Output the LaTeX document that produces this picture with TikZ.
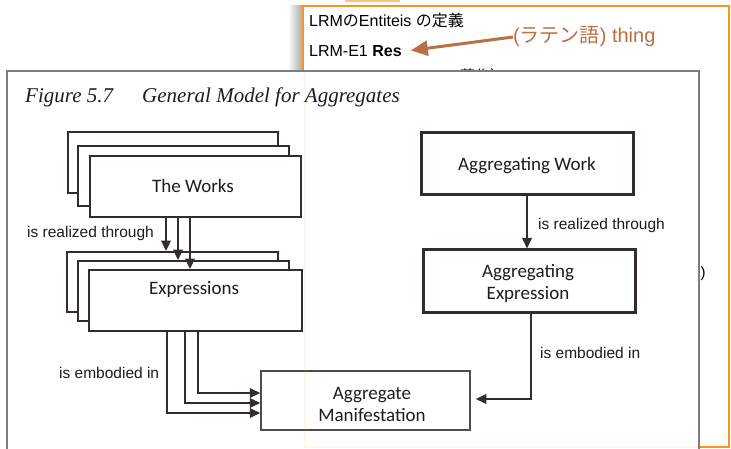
\documentclass[tikz,border=0pt]{standalone}
\usepackage{fontspec}
\setmainfont{Liberation Sans}
\newfontfamily\cjk{Noto Sans CJK JP}
\newfontfamily\calib{Carlito}
\newfontfamily\titlefont{Liberation Serif}
\usetikzlibrary{arrows.meta,calc}
\definecolor{orng}{RGB}{250,150,30}
\definecolor{brwn}{RGB}{184,112,68}
\definecolor{dk}{RGB}{50,44,42}
\definecolor{txt}{RGB}{30,28,28}
\definecolor{frm}{RGB}{125,125,125}
\begin{document}
\begin{tikzpicture}[x=1pt,y=-1pt,
  box/.style={draw=dk, fill=white, line width=1.8pt, inner sep=0pt, rectangle},
  thickbox/.style={box, line width=3pt},
  mbox/.style={box, draw=dk!85, line width=1.5pt},
  boxtext/.style={font=\calib\fontsize{19}{22}\selectfont, text=txt, align=center, inner sep=0pt},
  lbl/.style={font=\fontsize{15.5}{18}\selectfont, text=txt, anchor=base west, inner sep=0pt},
  arr/.style={draw=dk, line width=1.8pt, -{Triangle[length=10.5pt,width=9.5pt]}},
  bg/.style={font=\fontsize{16}{19}\selectfont, anchor=base west, inner sep=0pt}]
\useasboundingbox (0,0) rectangle (731,449);
\fill[white] (0,0) rectangle (731,449);
% shadow left of orange slide
\shade[left color=white, right color=black!35] (288,6) rectangle (303,72);
\fill[orng!55] (345,0) rectangle (400,2.5);
% orange slide
\draw[orng, line width=2pt, fill=white] (303,6) rectangle (729,447);
\node[bg] (title2) at (309,27) {LRM{\cjk の}Entiteis {\cjk の定義}};
\node[bg] (res) at (309,57) {LRM-E1 \textbf{Res}};
\node[bg, font=\fontsize{20}{24}\selectfont, text=brwn] (thing) at (513,43) {({\cjk ラテン語}) thing};
\draw[brwn, line width=3pt, shorten >=9pt, -{Triangle[length=17pt,width=15pt]}] (thing.west) -- (res.east);
\node[bg, font=\cjk\fontsize{15}{18}\selectfont] (hid) at (460,82) {著作）};
\node[bg, font=\fontsize{15}{18}\selectfont] (kp) at (693,277) {k)};
% figure image
\draw[frm, line width=1.5pt, fill=white] (7,455) -- (7,71) -- (699,71) -- (699,455);
\node[anchor=base west, inner sep=0pt, font=\titlefont\itshape\fontsize{21}{24}\selectfont, text=txt] (figno) at (25,103) {Figure 5.7};
\node[anchor=base west, inner sep=0pt, font=\titlefont\itshape\fontsize{21}{24}\selectfont, text=txt] (figtitle) at (142,103) {General Model for Aggregates};
% works stack
\node[box, minimum width=210, minimum height=61] (w1) at (173,162.5) {};
\node[box, minimum width=211, minimum height=60] (w2) at (183.5,176) {};
\node[box, minimum width=211, minimum height=61] (works) at (195.5,186.5) {};
\node[boxtext] at (193,186) {The Works};
% expressions stack
\node[box, minimum width=211, minimum height=60] (e1) at (172.5,282) {};
\node[box, minimum width=211, minimum height=60] (e2) at (183.5,291) {};
\node[box, minimum width=213, minimum height=61] (expr) at (195.5,300.5) {};
\node[boxtext] at (194,289) {Expressions};
% aggregating
\node[thickbox, minimum width=212, minimum height=62] (aw) at (527,164) {};
\node[boxtext] at (527,166) {Aggregating Work};
\node[thickbox, minimum width=212, minimum height=62] (ae) at (529,281) {};
\node[boxtext] at (528,283) {Aggregating\\Expression};
\node[mbox, minimum width=209, minimum height=59] (manif) at (365.5,400.5) {};
\node[boxtext] at (372,404) {Aggregate\\Manifestation};
% arrows works -> expressions
\coordinate (ra) at ($(works.south)+(-29.5,0)$);
\coordinate (rb) at ($(works.south)+(-17.5,0)$);
\coordinate (rc) at ($(works.south)+(-5.5,0)$);
\draw[arr] (ra) -- (ra |- e1.north);
\draw[arr] (rb) -- (rb |- e2.north);
\draw[arr] (rc) -- (rc |- expr.north);
\node[lbl] at (27,238) {is realized through};
% expressions -> manifestation
\coordinate (ea) at ($(expr.south)+(-28.5,0)$);
\coordinate (eb) at ($(expr.south)+(-10.5,0)$);
\coordinate (ec) at ($(expr.south)+(2.5,0)$);
\draw[arr] (ea) |- ($(manif.west)+(0,12.5)$);
\draw[arr] (eb) |- ($(manif.west)+(0,2.5)$);
\draw[arr] (ec) |- ($(manif.west)+(0,-7.5)$);
\node[lbl] at (59,378) {is embodied in};
% aggregating arrows
\draw[arr] (aw.south) -- (aw.south |- ae.north);
\node[lbl] at (538,230) {is realized through};
\draw[arr] ($(ae.south)+(2,0)$) |- ($(manif.east)+(5,-1.5)$);
\node[lbl] at (540,358) {is embodied in};
% faint orange frame seen through figure
\draw[orng, opacity=0.07, line width=1.5pt] (305,72) -- (305,447) -- (698,447);
\end{tikzpicture}
\end{document}
